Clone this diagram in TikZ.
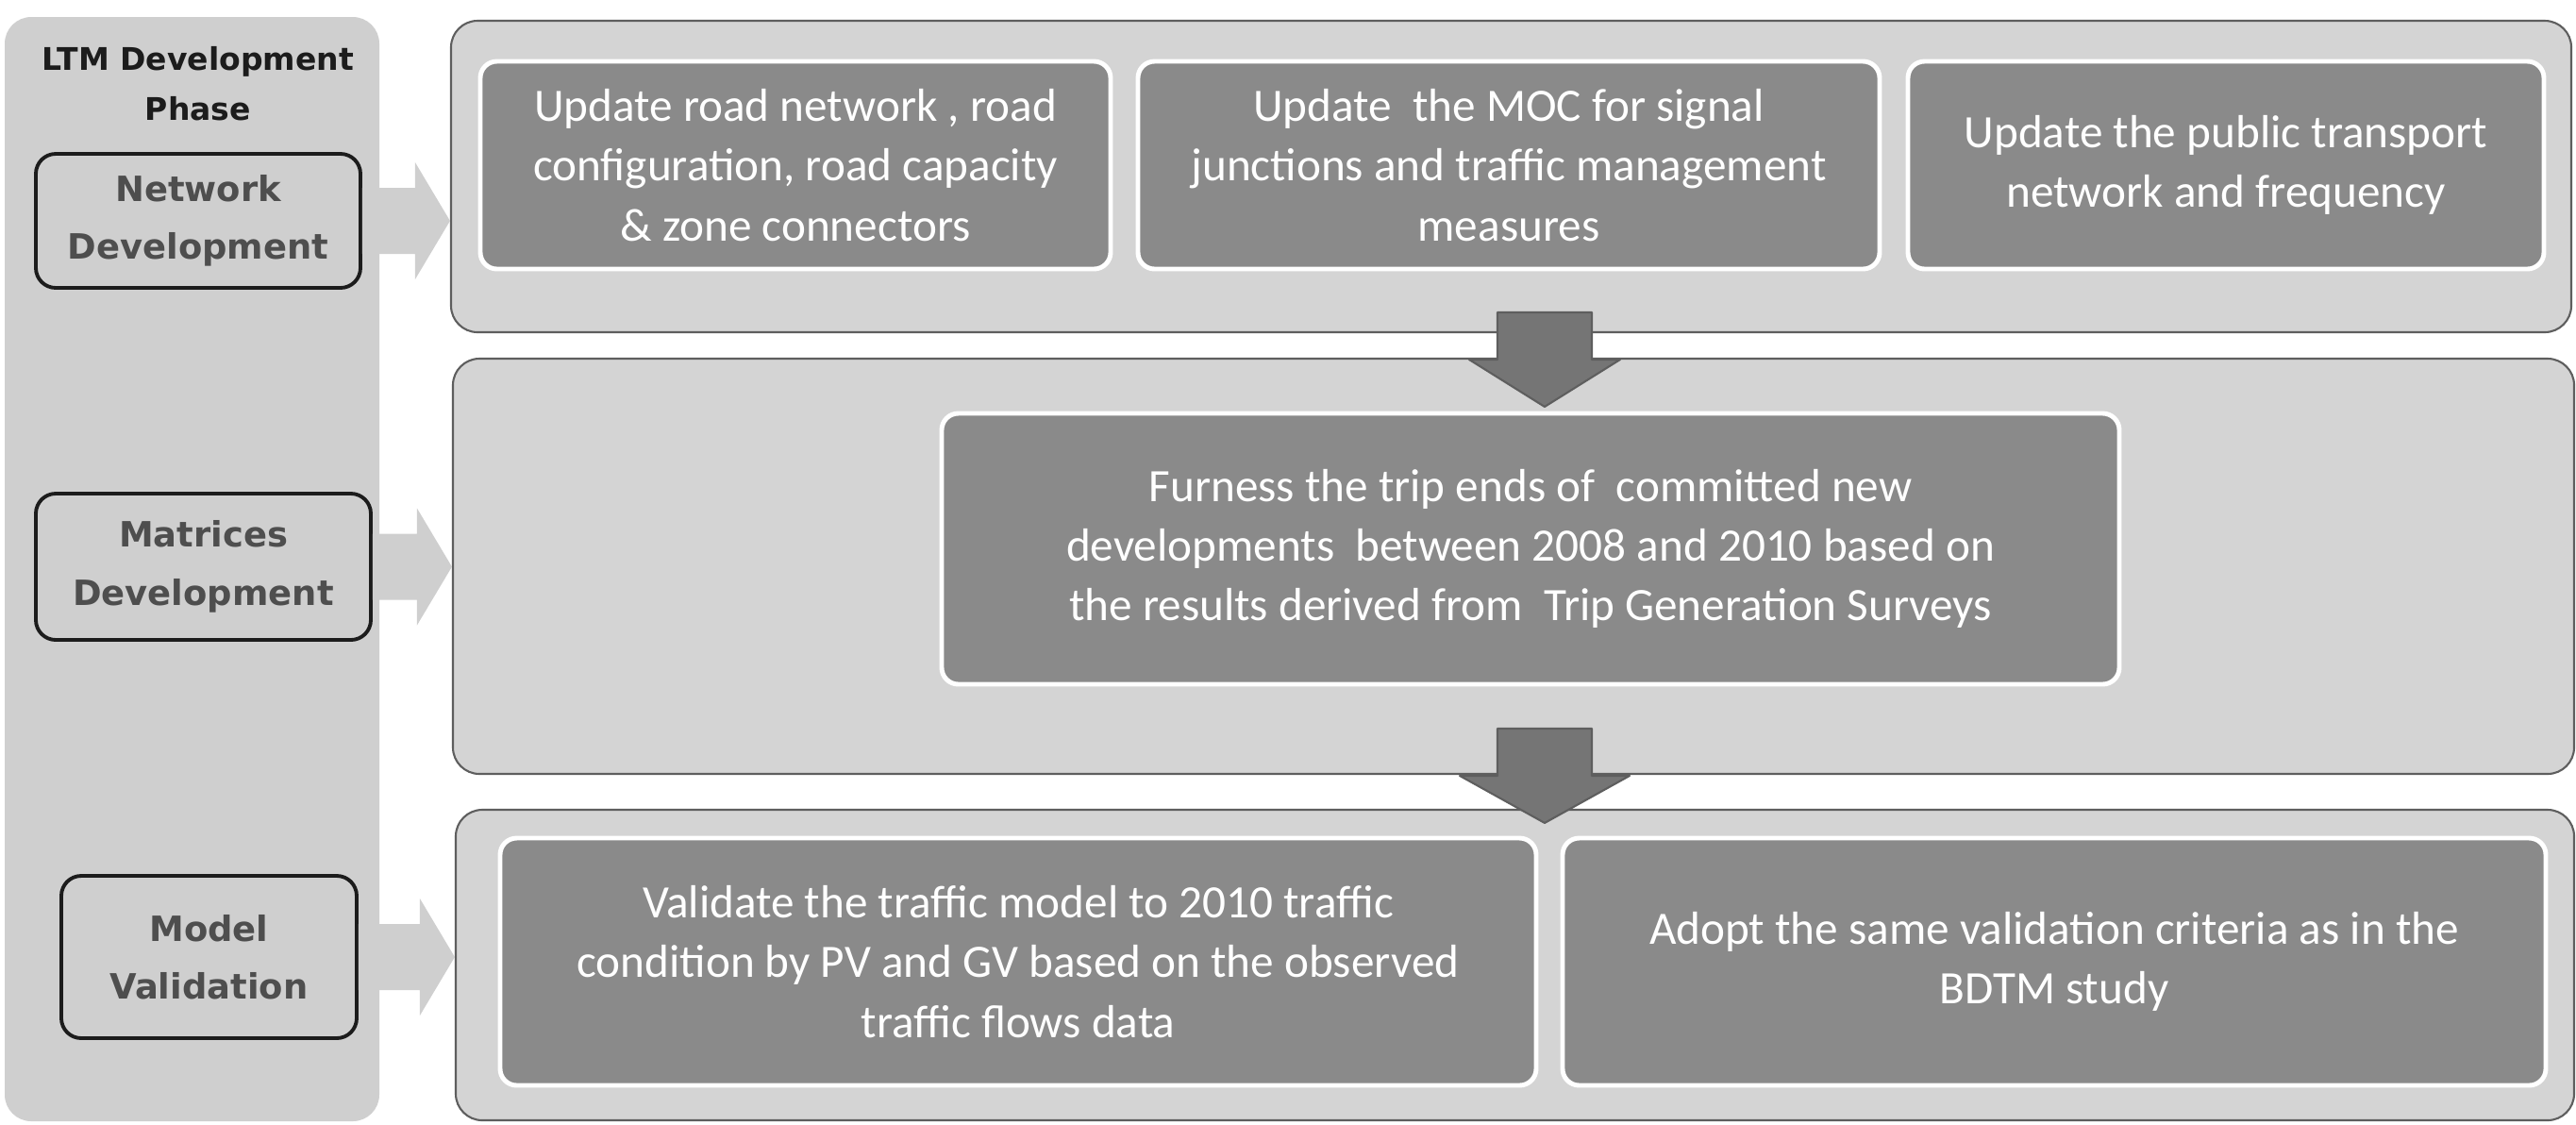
\documentclass[tikz,border=0pt]{standalone}
\usepackage{fontspec}
\setmainfont{Carlito}
\newfontfamily\headfont{DejaVu Sans}
\usetikzlibrary{calc}
\definecolor{ink}{HTML}{1C1C1C}
\definecolor{panel}{HTML}{CFCFCF}
\definecolor{shell}{HTML}{D4D4D4}
\definecolor{slate}{HTML}{8A8A8A}
\definecolor{edge}{HTML}{5E5E5E}

\begin{document}
\begin{tikzpicture}[line join=round,
  phasebox/.style={draw=ink,line width=1.1pt,rounded corners=6pt,fill=panel,inner sep=0pt,
    font=\headfont\bfseries\fontsize{10.5}{17.5}\selectfont,text=ink!78,align=center},
  shellbox/.style={draw=edge,line width=0.6pt,rounded corners=8pt,fill=shell,inner sep=0pt},
  taskbox/.style={draw=white,line width=1.4pt,rounded corners=5pt,fill=slate,inner sep=0pt,
    text=white,font=\fontsize{14}{18}\selectfont,align=center},
  flow/.style={fill=gray!38},
  drop/.style={fill=slate!85!black,draw=edge,line width=0.6pt}]
  \useasboundingbox (0,0) rectangle (27.3,-11.91);

  % phase column
  \node[fill=panel,rounded corners=8pt,minimum width=3.97cm,minimum height=11.70cm] (panel) at (2.035,-6.03) {};
  \node[font=\headfont\bfseries\fontsize{9.4}{15}\selectfont,text=ink,align=center] (title) at (2.10,-0.885)
    {LTM Development\\Phase};
  \node[phasebox,minimum width=3.44cm,minimum height=1.42cm] (net) at (2.10,-2.34) {Network\\Development};
  \node[phasebox,minimum width=3.55cm,minimum height=1.55cm] (mat) at (2.155,-6.005) {Matrices\\Development};
  \node[phasebox,minimum width=3.13cm,minimum height=1.72cm] (modv) at (2.215,-10.14) {Model\\Validation};

  % task rows
  \node[shellbox,minimum width=22.47cm,minimum height=3.30cm] (top) at (16.015,-1.87) {};
  \node[shellbox,minimum width=22.48cm,minimum height=4.40cm] (mid) at (16.04,-6.00) {};
  \node[shellbox,minimum width=22.45cm,minimum height=3.29cm] (bot) at (16.055,-10.225) {};

  \node[taskbox,minimum width=6.68cm,minimum height=2.20cm] (road) at (8.43,-1.75)
    {Update road network , road\\configuration, road capacity\\\& zone connectors};
  \node[taskbox,minimum width=7.86cm,minimum height=2.20cm] (moc) at (15.99,-1.75)
    {Update \ the MOC for signal\\junctions and traffic management\\measures};
  \node[taskbox,minimum width=6.74cm,minimum height=2.20cm] (pt) at (23.59,-1.75)
    {Update the public transport\\network and frequency};
  \node[taskbox,minimum width=12.48cm,minimum height=2.87cm] (furness) at (16.22,-5.815)
    {Furness the trip ends of \ committed new\\developments \ between 2008 and 2010 based on\\the results derived from \ Trip Generation Surveys};
  \node[taskbox,minimum width=10.98cm,minimum height=2.62cm] (valid) at (10.79,-10.19)
    {Validate the traffic model to 2010 traffic\\condition by PV and GV based on the observed\\traffic flows data};
  \node[taskbox,minimum width=10.42cm,minimum height=2.62cm] (adopt) at (21.77,-10.19)
    {Adopt the same validation criteria as in the\\BDTM study};

  % phase to row
  \foreach \a/\b in {net/top,mat/mid,modv/bot}
    \fill[flow] let \p1=(\a.east), \p2=(\b.west) in
      (\x1,\y1+0.35cm) -- (\x2-0.37cm,\y1+0.35cm) -- (\x2-0.37cm,\y1+0.62cm) -- (\x2,\y1)
      -- (\x2-0.37cm,\y1-0.62cm) -- (\x2-0.37cm,\y1-0.35cm) -- (\x1,\y1-0.35cm) -- cycle;

  % row to row
  \coordinate (tipA) at ($(mid.north)+(0.33,-0.52)$);
  \coordinate (tipB) at ($(bot.north)+(0.315,-0.15)$);
  \foreach \t/\hw in {tipA/0.80,tipB/0.90}
    \filldraw[drop] (\t) -- ++(-\hw,0.5) -- ++({\hw-0.5},0) -- ++(0,0.5) -- ++(1,0)
      -- ++(0,-0.5) -- ++({\hw-0.5},0) -- cycle;
\end{tikzpicture}
\end{document}
